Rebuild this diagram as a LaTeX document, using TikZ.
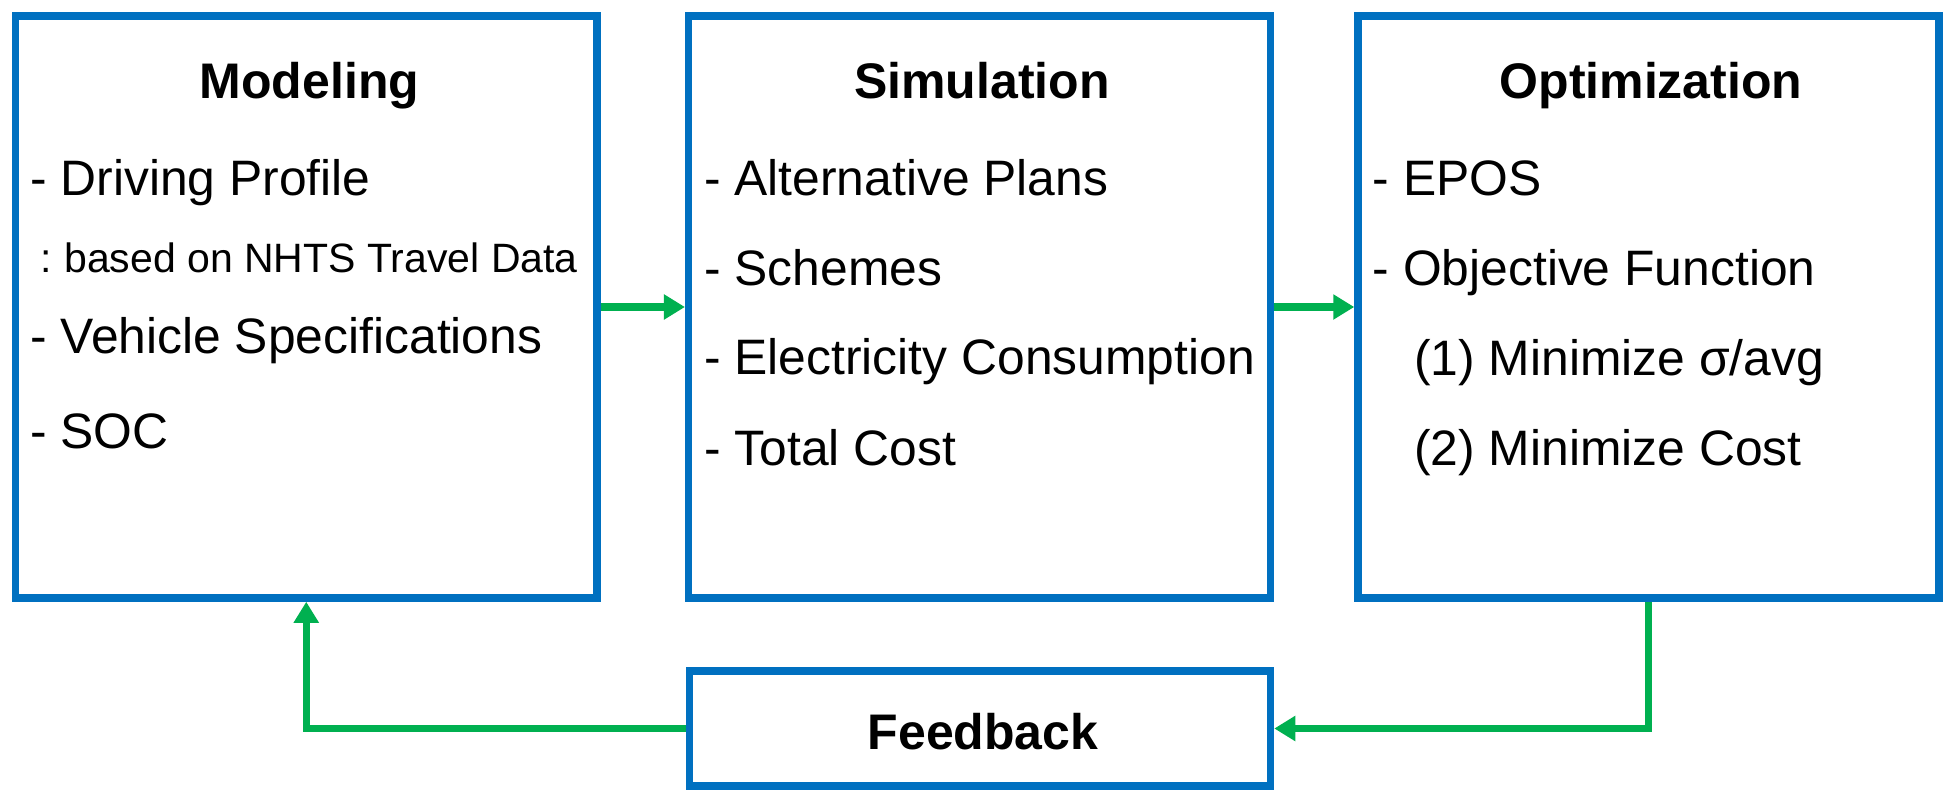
\documentclass[tikz,border=0pt]{standalone}
\usepackage{fontspec}
\setmainfont{Liberation Sans}
\usetikzlibrary{arrows.meta}
\definecolor{boxblue}{HTML}{0070C0}
\definecolor{arrgreen}{HTML}{00B050}
\tikzset{
  panel/.style={draw=boxblue, line width=7.5pt, rectangle, inner sep=0pt, fill=white},
  ttl/.style={anchor=base, inner sep=0pt, font=\fontsize{50}{60}\selectfont\bfseries},
  item/.style={anchor=base west, inner sep=0pt, font=\fontsize{49.8}{60}\selectfont},
  subitem/.style={anchor=base west, inner sep=0pt, font=\fontsize{41}{49}\selectfont},
  arr/.style={draw=arrgreen, line width=7.5pt, -{Triangle[length=21pt,width=24pt]}}
}
\begin{document}
\begin{tikzpicture}[x=1pt,y=-1pt]
\useasboundingbox (0,0) rectangle (1945,792);
% boxes
\node[panel, minimum width=581.5pt, minimum height=582pt] (mod) at (306.25,307) {};
\node[panel, minimum width=581.8pt, minimum height=582pt] (sim) at (979.6,307) {};
\node[panel, minimum width=581pt, minimum height=582pt] (opt) at (1648.5,307) {};
\node[panel, minimum width=581pt, minimum height=115pt] (fb) at (980,728.5) {};
% titles
\node[ttl] (modt) at (309.5,98) {Modeling};
\node[ttl] (simt) at (982,98) {Simulation};
\node[ttl] (optt) at (1651,98) {Optimization};
\node[ttl] (fbt) at (983,749) {Feedback};
% modeling items
\node[item] (m1) at (30,195) {- Driving Profile};
\node[subitem] (m2) at (40.5,272.5) {:\kern-3pt{} based on NHTS Travel Data};
\node[item] (m3) at (30,353) {- Vehicle Specifications};
\node[item] (m4) at (30,448) {- SOC};
% simulation items
\node[item] (s1) at (704,195) {- Alternative Plans};
\node[item] (s2) at (704,285) {- Schemes};
\node[item] (s3) at (704,374) {- Electricity Consumption};
\node[item] (s4) at (704,465) {- Total Cost};
% optimization items
\node[item] (o1) at (1372.5,195) {- EPOS};
\node[item] (o2) at (1372.5,285) {- Objective Function};
\node[item] (o3) at (1414,375) {(1) Minimize σ/avg};
\node[item] (o4) at (1414,465) {(2) Minimize Cost};
% connectors
\draw[arr] (mod.east) -- (sim.west);
\draw[arr] (sim.east) -- (opt.west);
\draw[arr] (opt.south) -- (opt.south |- fb.east) -- (fb.east);
\draw[arr] (fb.west) -- (mod.south |- fb.west) -- (mod.south);
\end{tikzpicture}
\end{document}
